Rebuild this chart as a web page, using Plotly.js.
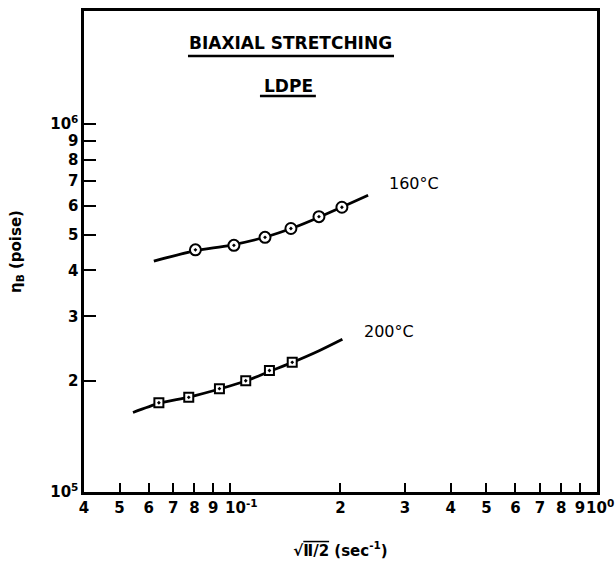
<!DOCTYPE html>
<html>
<head>
<meta charset="utf-8">
<script src="https://cdn.plot.ly/plotly-3.0.1.min.js"></script>
<style>
  html, body { margin: 0; padding: 0; background: #fff; }
  #chart { width: 616px; height: 565px; }
</style>
</head>
<body>
<div id="chart"></div>
<script>
// Biaxial stretching viscosity of LDPE vs. sqrt(II/2), log-log

// x axis ticks (sec^-1); the two decade labels are set beside their ticks below
const xTickVals = [0.04, 0.05, 0.06, 0.07, 0.08, 0.09, 0.1, 0.2, 0.3, 0.4, 0.5, 0.6, 0.7, 0.8, 0.9, 1];
const xTickText = ['4', '5', '6', '7', '8', '9', '', '2', '3', '4', '5', '6', '7', '8', '9', ''];
const xDecadeVals = [0.1, 1];
const xDecadeText = ['10<sup>-1</sup>', '10<sup>0</sup>'];

// y axis ticks (poise)
const yTickVals = [1e5, 2e5, 3e5, 4e5, 5e5, 6e5, 7e5, 8e5, 9e5, 1e6];
const yTickText = ['10<sup>5</sup>', '2', '3', '4', '5', '6', '7', '8', '9', '10<sup>6</sup>'];

// 160 °C measurements and fitted curve
const rate160 = [0.0805, 0.1025, 0.1246, 0.1466, 0.1748, 0.2019];
const eta160 = [4.55e5, 4.68e5, 4.92e5, 5.20e5, 5.60e5, 5.94e5];
const fitRate160 = [0.062, 0.08, 0.1, 0.125, 0.15, 0.175, 0.2, 0.238];
const fitEta160 = [4.24e5, 4.52e5, 4.68e5, 4.93e5, 5.24e5, 5.58e5, 5.92e5, 6.40e5];

// 200 °C measurements and fitted curve
const rate200 = [0.0640, 0.0772, 0.0936, 0.1104, 0.1281, 0.1478];
const eta200 = [1.748e5, 1.808e5, 1.909e5, 2.006e5, 2.139e5, 2.251e5];
const fitRate200 = [0.0544, 0.064, 0.0772, 0.0936, 0.11, 0.128, 0.148, 0.175, 0.2025];
const fitEta200 = [1.644e5, 1.74e5, 1.81e5, 1.905e5, 2.00e5, 2.125e5, 2.25e5, 2.42e5, 2.60e5];

const ink = '#000';
const FONT = 'DejaVu Sans, Liberation Sans, sans-serif';

const curveLine = { color: ink, width: 2.8, shape: 'spline', smoothing: 0.7 };

const traces = [
  { x: fitRate160, y: fitEta160, mode: 'lines', line: curveLine, hoverinfo: 'skip' },
  { x: fitRate200, y: fitEta200, mode: 'lines', line: curveLine, hoverinfo: 'skip' },
  {
    x: rate160, y: eta160, mode: 'markers',
    marker: { symbol: 'circle-dot', size: 11, color: '#fff', line: { color: ink, width: 2 } }
  },
  {
    x: rate200, y: eta200, mode: 'markers',
    marker: { symbol: 'square-dot', size: 9, color: '#fff', line: { color: ink, width: 2 } }
  }
];

const tickFont = { family: FONT, size: 15, weight: 'bold', color: ink };
const labelFont = { family: FONT, size: 16, color: ink };
const headFont = { family: FONT, size: 17, weight: 'bold', color: ink };

// decade labels on the x axis, set just right of their ticks
const decadeShift = [-7, -13];
const decadeLabels = xDecadeVals.map((v, i) => ({
  text: xDecadeText[i],
  xref: 'x', yref: 'paper',
  x: Math.log10(v), y: 0,
  xanchor: 'left', yanchor: 'top',
  xshift: decadeShift[i], yshift: -3,
  showarrow: false,
  font: tickFont
}));

const layout = {
  width: 616,
  height: 565,
  margin: { l: 84, r: 19, t: 11, b: 73 },
  paper_bgcolor: '#fff',
  plot_bgcolor: '#fff',
  showlegend: false,
  xaxis: {
    type: 'log',
    range: [Math.log10(0.04), 0.0005],
    tickmode: 'array',
    tickvals: xTickVals,
    ticktext: xTickText,
    tickangle: 0,
    ticks: 'inside',
    ticklen: 9,
    tickwidth: 2,
    tickcolor: ink,
    tickfont: tickFont,
    showline: true,
    linewidth: 2.6,
    linecolor: ink,
    mirror: true,
    showgrid: false,
    zeroline: false,
    title: {
      text: '\u221a<span style="text-decoration:overline">\u2161/2</span> (sec<sup>-1</sup>)',
      font: { family: FONT, size: 15, weight: 'bold', color: ink },
      standoff: 30
    }
  },
  yaxis: {
    type: 'log',
    range: [5, 6.307],
    tickmode: 'array',
    tickvals: yTickVals,
    ticktext: yTickText,
    tickangle: 0,
    ticks: 'inside',
    ticklen: 12,
    tickwidth: 2,
    tickcolor: ink,
    tickfont: tickFont,
    showline: true,
    linewidth: 2.6,
    linecolor: ink,
    mirror: true,
    showgrid: false,
    zeroline: false,
    title: {
      text: '\u03b7<sub>B</sub> (poise)',
      font: { family: FONT, size: 15, weight: 'bold', color: ink },
      standoff: 25
    }
  },
  annotations: [
    { text: 'BIAXIAL STRETCHING', x: 0.4035, y: 0.9335, xref: 'paper', yref: 'paper',
      xanchor: 'center', yanchor: 'middle', showarrow: false, font: headFont },
    { text: 'LDPE', x: 0.3977, y: 0.8441, xref: 'paper', yref: 'paper',
      xanchor: 'center', yanchor: 'middle', showarrow: false, font: headFont },
    { text: '160\u00b0C', x: 0.6433, y: 0.6424, xref: 'paper', yref: 'paper',
      xanchor: 'center', yanchor: 'middle', showarrow: false, font: labelFont },
    { text: '200\u00b0C', x: 0.5945, y: 0.3347, xref: 'paper', yref: 'paper',
      xanchor: 'center', yanchor: 'middle', showarrow: false, font: labelFont }
  ].concat(decadeLabels),
  shapes: [
    // heading underlines
    { type: 'line', xref: 'paper', yref: 'paper', x0: 0.2027, x1: 0.6043, y0: 0.9064, y1: 0.9064,
      line: { color: ink, width: 2.5 } },
    { type: 'line', xref: 'paper', yref: 'paper', x0: 0.343, x1: 0.452, y0: 0.8233, y1: 0.8233,
      line: { color: ink, width: 2.5 } }
  ]
};

Plotly.newPlot('chart', traces, layout, { staticPlot: true, displayModeBar: false });
</script>
</body>
</html>
